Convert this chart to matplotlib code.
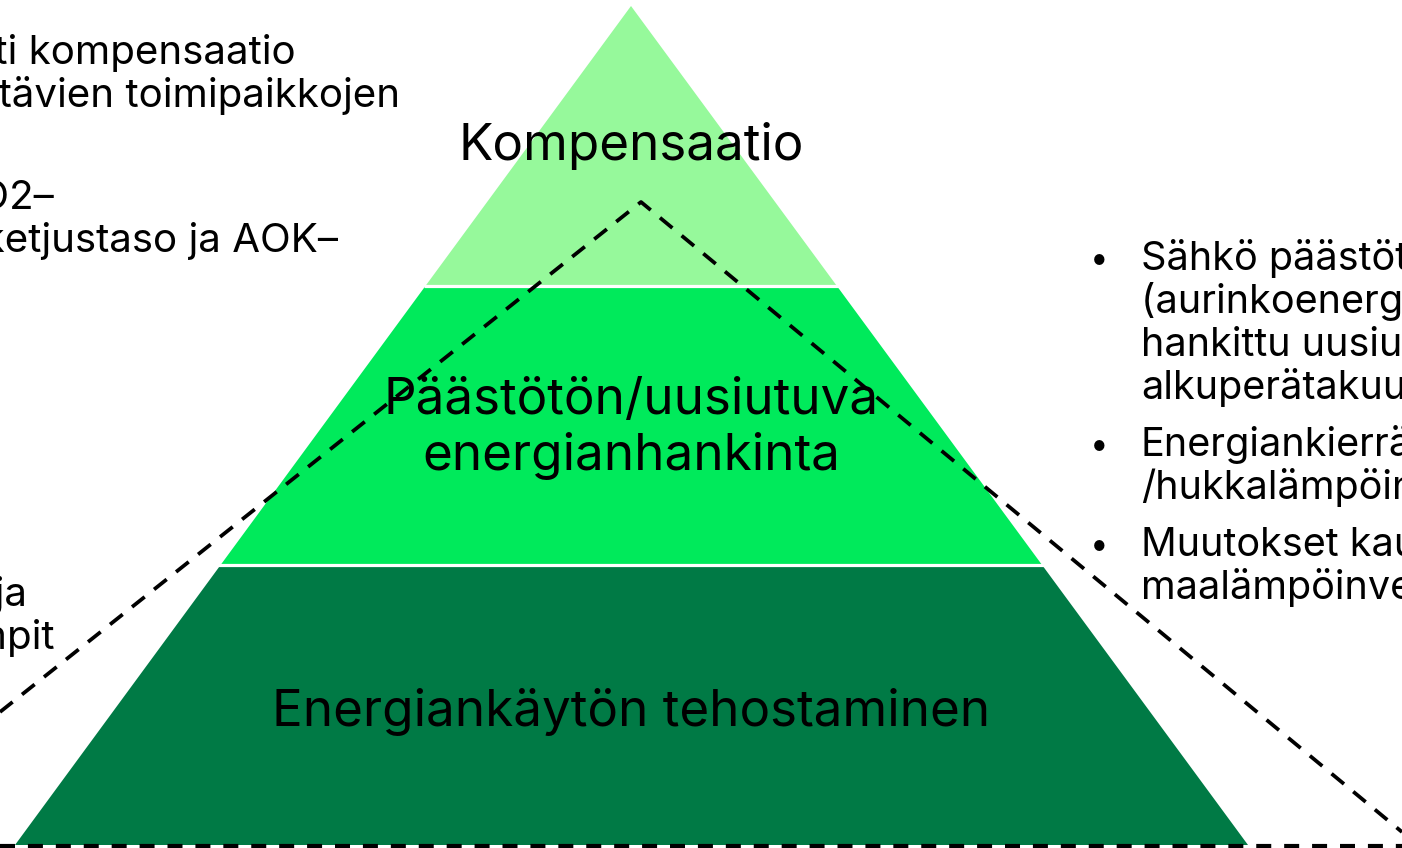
import matplotlib.pyplot as plt
from matplotlib.patches import Polygon

plt.rcParams['font.family'] = ['Inter', 'DejaVu Sans']

# pyramid levels, top to bottom
levels = ['Kompensaatio', 'Päästötön/uusiutuva\nenergianhankinta', 'Energiankäytön tehostaminen']
level_colors = ['#96f99b', '#00ea5b', '#007a45']

# left side notes (only the right part is visible in the crop)
left_notes = ['Vapaaehtoisesti kompensaatio', 'ylläpidettävien toimipaikkojen',
              'CO2–', 'arvoketjustaso ja AOK–', 'Energiansäästökampanjat ja', 'tempit']

# right side bullets
right_bullets = [
    ['Sähkö päästötöntä', '(aurinkoenergia) tai', 'hankittu uusiutuvana', 'alkuperätakuulla'],
    ['Energiankierrätys', '/hukkalämpöinvestoinnit'],
    ['Muutokset kaukolämmöstä', 'maalämpöinvestoinneilla'],
]

# dashed outline behind the pyramid (pixel coords)
dash_x = [0, 641, 1402]
dash_y = [712, 202, 832]

W, H = 1402, 848
fig = plt.figure(figsize=(W / 100, H / 100), dpi=100)
ax = fig.add_axes([0, 0, 1, 1])
ax.set_xlim(0, W)
ax.set_ylim(H, 0)
ax.axis('off')

apex = (631, 6)
base_y, base_left, base_right = 845, 15, 1248

def edge_x(y):
    t = (y - apex[1]) / (base_y - apex[1])
    return apex[0] + (base_left - apex[0]) * t, apex[0] + (base_right - apex[0]) * t

n = len(levels)
bounds = [apex[1] + (base_y - apex[1]) * i / n for i in range(n + 1)]
for i in range(n):
    y0, y1 = bounds[i], bounds[i + 1]
    l0, r0 = edge_x(y0)
    l1, r1 = edge_x(y1)
    ax.add_patch(Polygon([(l0, y0), (r0, y0), (r1, y1), (l1, y1)],
                         closed=True, facecolor=level_colors[i], edgecolor='none', zorder=1))
    if i > 0:
        ax.plot([l0 - 2, r0 + 2], [y0, y0], color='white', lw=2.3, zorder=2,
                solid_capstyle='butt')

# dashed lines
ax.plot(dash_x, dash_y, color='black', lw=2.7, ls=(0, (4.3, 3.2)), zorder=3)
ax.plot([0, W], [845.5, 845.5], color='black', lw=3, ls=(0, (3.6, 3.1)), zorder=3)

# level labels
label_base = [160, 414, 726]
for i, lab in enumerate(levels):
    lines = lab.split('\n')
    for k, ln in enumerate(lines):
        ax.text(631, label_base[i] + k * 56, ln, fontsize=36.8, ha='center',
                va='baseline', color='black', zorder=4)

# left notes
left_right_x = [296, 400, 54, 338, 27, 55]
left_base = [64, 107, 209, 252, 606, 649]
for s, xr, yb in zip(left_notes, left_right_x, left_base):
    ax.text(xr, yb, s, fontsize=29, ha='right', va='baseline', color='black', zorder=4)

# right bullets
yb = 270
for para in right_bullets:
    ax.text(1099, yb, '•', fontsize=24, ha='center', va='baseline', color='black')
    for ln in para:
        ax.text(1141, yb, ln, fontsize=28.5, ha='left', va='baseline', color='black')
        yb += 43
    yb += 14

fig.savefig('out.png', dpi=100)
